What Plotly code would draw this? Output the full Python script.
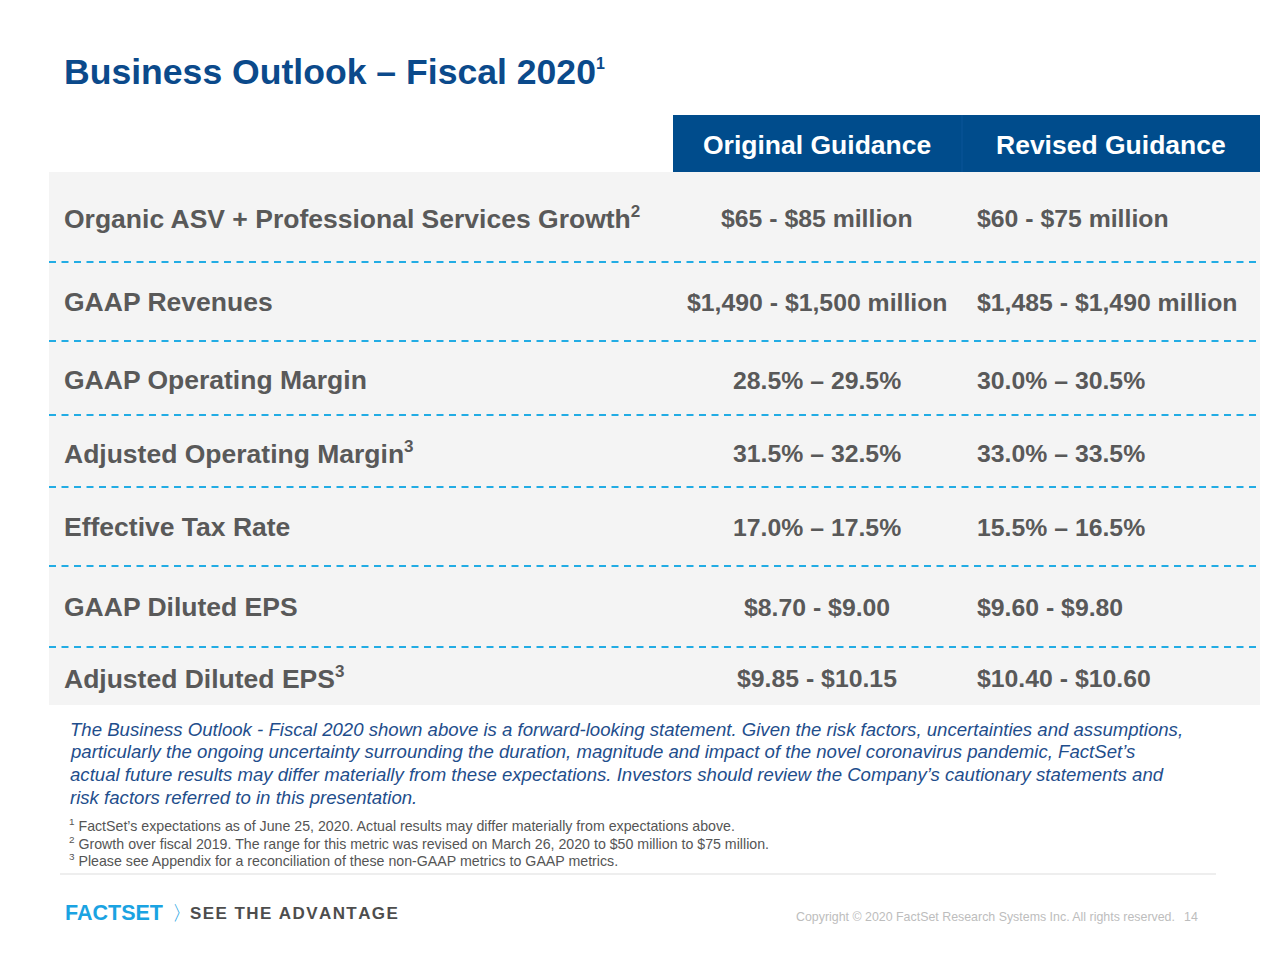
import plotly.graph_objects as go

# ---------------- data ----------------
title_text = "Business Outlook – Fiscal 2020"
title_sup = "1"
column_headers = ["Original Guidance", "Revised Guidance"]
metrics = [
    "Organic ASV + Professional Services Growth",
    "GAAP Revenues",
    "GAAP Operating Margin",
    "Adjusted Operating Margin",
    "Effective Tax Rate",
    "GAAP Diluted EPS",
    "Adjusted Diluted EPS",
]
metric_sups = ["2", "", "", "3", "", "", "3"]
original_guidance = [
    "$65 - $85 million",
    "$1,490 - $1,500 million",
    "28.5% – 29.5%",
    "31.5% – 32.5%",
    "17.0% – 17.5%",
    "$8.70 - $9.00",
    "$9.85 - $10.15",
]
revised_guidance = [
    "$60 - $75 million",
    "$1,485 - $1,490 million",
    "30.0% – 30.5%",
    "33.0% – 33.5%",
    "15.5% – 16.5%",
    "$9.60 - $9.80",
    "$10.40 - $10.60",
]
disclaimer_lines = [
    "The Business Outlook - Fiscal 2020 shown above is a forward-looking statement. Given the risk factors, uncertainties and assumptions,",
    "particularly the ongoing uncertainty surrounding the duration, magnitude and impact of the novel coronavirus pandemic, FactSet’s",
    "actual future results may differ materially from these expectations. Investors should review the Company’s cautionary statements and",
    "risk factors referred to in this presentation.",
]
footnote_marks = ["1", "2", "3"]
footnotes = [
    "FactSet’s expectations as of June 25, 2020. Actual results may differ materially from expectations above.",
    "Growth over fiscal 2019. The range for this metric was revised on March 26, 2020 to $50 million to $75 million.",
    "Please see Appendix for a reconciliation of these non-GAAP metrics to GAAP metrics.",
]
logo_text = "FACTSET"
tagline = "SEE THE ADVANTAGE"
copyright_text = "Copyright © 2020 FactSet Research Systems Inc. All rights reserved."
page_number = "14"

# ---------------- layout constants ----------------
W, H = 1280, 960
PAGE_OFFSET = 8  # default body margin of the html page
FONT = "Liberation Sans, Arial, sans-serif"
DARK_BLUE = "#0B4A8B"
HEADER_BLUE = "#004C8C"
GREY_TEXT = "#595959"
BAND = "#F4F4F4"
DASH = "#22ACE4"

row_centers = [218, 302, 380, 453, 527, 607, 678]
dash_ys = [262, 341, 415, 487, 566, 647]
orig_center = 817
rev_left = 975

fig = go.Figure()
shapes = []
ann = []

# grey band
shapes.append(dict(type="rect", x0=49, x1=1260, y0=172, y1=705, fillcolor=BAND, line_width=0, layer="below"))
# header band
shapes.append(dict(type="rect", x0=673, x1=1260, y0=115, y1=172, fillcolor=HEADER_BLUE, line_width=0, layer="below"))
shapes.append(dict(type="line", x0=962, x1=962, y0=115, y1=172, line=dict(color="#0A5598", width=1)))
# dashed separators
for y in dash_ys:
    shapes.append(dict(type="line", x0=49, x1=1260, y0=y, y1=y, line=dict(color=DASH, width=2, dash="7px,5.5px")))
# footer rule
shapes.append(dict(type="line", x0=60, x1=1216, y0=874, y1=874, line=dict(color="#DDDDDD", width=1)))

# title
ann.append(dict(x=62, y=72,
                text=f"<b>{title_text}</b><sup><span style='font-size:16px'><b>{title_sup}</b></span></sup>",
                xanchor="left", yanchor="middle",
                font=dict(family=FONT, size=35.6, color=DARK_BLUE)))
# column headers
for cx, h in zip([817, 1111], column_headers):
    ann.append(dict(x=cx, y=145, text=f"<b>{h}</b>", xanchor="center", yanchor="middle",
                    font=dict(family=FONT, size=26.5, color="white")))

# rows
for y, m, s, o, r in zip(row_centers, metrics, metric_sups, original_guidance, revised_guidance):
    label = f"<b>{m}</b>" + (f"<sup><span style='font-size:17px'><b>{s}</b></span></sup>" if s else "")
    ann.append(dict(x=62, y=y, text=label, xanchor="left", yanchor="middle",
                    font=dict(family=FONT, size=26.5, color=GREY_TEXT)))
    ann.append(dict(x=orig_center, y=y, text=f"<b>{o}</b>", xanchor="center", yanchor="middle",
                    font=dict(family=FONT, size=24.8, color=GREY_TEXT)))
    ann.append(dict(x=rev_left, y=y, text=f"<b>{r}</b>", xanchor="left", yanchor="middle",
                    font=dict(family=FONT, size=24.8, color=GREY_TEXT)))

# disclaimer
for i, line in enumerate(disclaimer_lines):
    ann.append(dict(x=68, y=729 + i * 22.7, text=f"<i>{line}</i>", xanchor="left", yanchor="middle",
                    font=dict(family=FONT, size=18.6, color="#1F4E8C")))

# footnotes
for i, (mk, fn) in enumerate(zip(footnote_marks, footnotes)):
    ann.append(dict(x=67, y=825 + i * 17.5, text=f"<sup>{mk}</sup> {fn}", xanchor="left", yanchor="middle",
                    font=dict(family=FONT, size=14.2, color="#555555")))

# logo + tagline
ann.append(dict(x=63, y=913, text=f"<b>{logo_text}</b>", xanchor="left", yanchor="middle",
                font=dict(family=FONT, size=21.5, color="#1AA3E2")))
ann.append(dict(x=170, y=913, text="〉", xanchor="left", yanchor="middle",
                font=dict(family=FONT, size=20, color="#1AA3E2")))
ann.append(dict(x=188, y=913, text="<b>" + "\u200a".join(tagline) + "</b>", xanchor="left", yanchor="middle",
                font=dict(family=FONT, size=17, color="#4D4D4D")))
# copyright
ann.append(dict(x=1177, y=917, text=copyright_text, xanchor="right", yanchor="middle",
                font=dict(family=FONT, size=12.4, color="#BDBDBD")))
ann.append(dict(x=1182, y=917, text=page_number, xanchor="left", yanchor="middle",
                font=dict(family=FONT, size=12.4, color="#BDBDBD")))

for a in ann:
    a.update(xref="x", yref="y", showarrow=False)

fig.update_layout(
    width=W - PAGE_OFFSET, height=H - PAGE_OFFSET,
    margin=dict(l=0, r=0, t=0, b=0),
    paper_bgcolor="white", plot_bgcolor="white",
    xaxis=dict(range=[PAGE_OFFSET, W], visible=False, fixedrange=True),
    yaxis=dict(range=[H, PAGE_OFFSET], visible=False, fixedrange=True),
    shapes=shapes, annotations=ann, showlegend=False,
)
fig.write_html("out.html", config={"displayModeBar": False})
